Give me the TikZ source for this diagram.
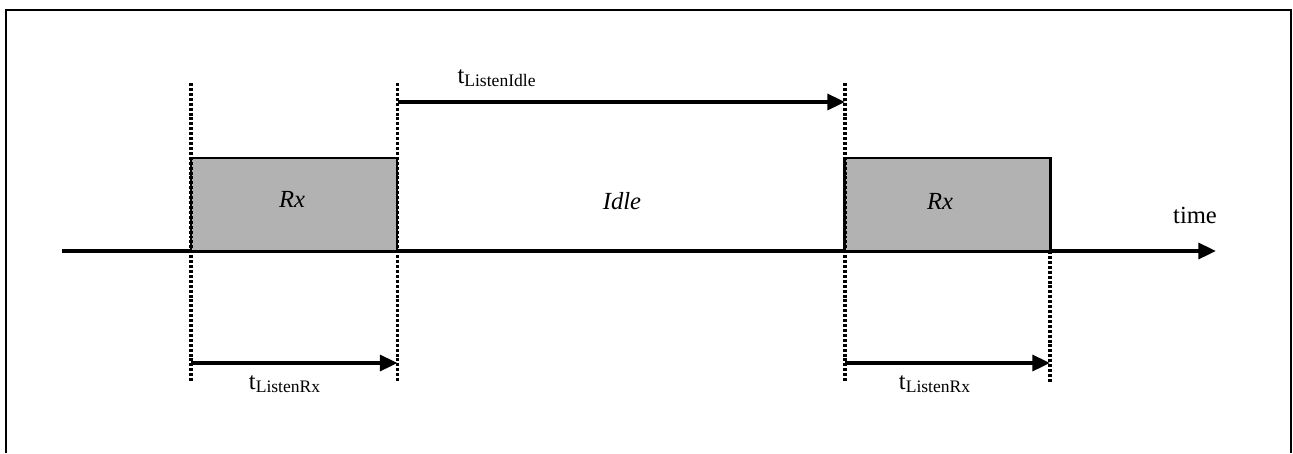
\documentclass[tikz,border=0pt]{standalone}
\usepackage{fontspec}
\setmainfont{Liberation Serif}
\usetikzlibrary{arrows.meta}
\newcommand{\tsub}[1]{t\textsubscript{\fontsize{10}{11}\selectfont #1}}

\tikzset{
  every node/.style={font=\fontsize{14}{16}\selectfont},
  rxbox/.style={draw, line width=1.6pt, fill=black!30, minimum width=4.12cm, minimum height=1.86cm, inner sep=0pt},
  marker/.style={line width=1.9pt, dash pattern=on 1.7pt off 1.1pt},
  span/.style={line width=2.1pt, -{Triangle[length=10pt,width=9pt]}},
  lbl/.style={anchor=base, inner sep=0pt}
}

\begin{document}
\begin{tikzpicture}[x=0.02cm, y=-0.02cm]
  \useasboundingbox (0,0) rectangle (1293,453);
  % frame (bottom edge is cut off)
  \draw[line width=1.5pt] (6,453) -- (6,10) -- (1291,10) -- (1291,453);
  % time axis
  \coordinate (t0) at (62,251);
  \coordinate (t1) at (1216,251);
  \draw[span] (t0) -- (t1);
  \node[lbl] (time) at (1195,223) {time};
  % receive windows
  \node[rxbox] (rx1) at (294,204.5) {};
  \node[rxbox] (rx2) at (947.5,204.5) {};
  \node[lbl] (rx1txt) at (292,207) {\itshape Rx};
  \node[lbl] (idle) at (622,209) {\itshape Idle};
  \node[lbl] (rx2txt) at (940,209) {\itshape Rx};
  % markers
  \coordinate (a1) at (191,83);  \coordinate (a2) at (191,382);
  \coordinate (b1) at (397.5,83);  \coordinate (b2) at (397.5,382);
  \coordinate (c1) at (845,83);  \coordinate (c2) at (845,382);
  \coordinate (d1) at (1050,251); \coordinate (d2) at (1050,382);
  \draw[marker] (a1) -- (a2);
  \draw[marker] (b1) -- (b2);
  \draw[marker] (c1) -- (c2);
  \draw[marker] (d1) -- (d2);
  % durations
  \coordinate (i0) at (397.5,102); \coordinate (i1) at (845,102);
  \coordinate (r0) at (191,363);   \coordinate (r1) at (397.5,363);
  \coordinate (s0) at (845,363);   \coordinate (s1) at (1050,363);
  \draw[span] (i0) -- (i1);
  \node[lbl] (tidle) at (497,83) {\tsub{ListenIdle}};
  \draw[span] (r0) -- (r1);
  \node[lbl] (trx1) at (285,389) {\tsub{ListenRx}};
  \draw[span] (s0) -- (s1);
  \node[lbl] (trx2) at (935,389) {\tsub{ListenRx}};
\end{tikzpicture}
\end{document}
